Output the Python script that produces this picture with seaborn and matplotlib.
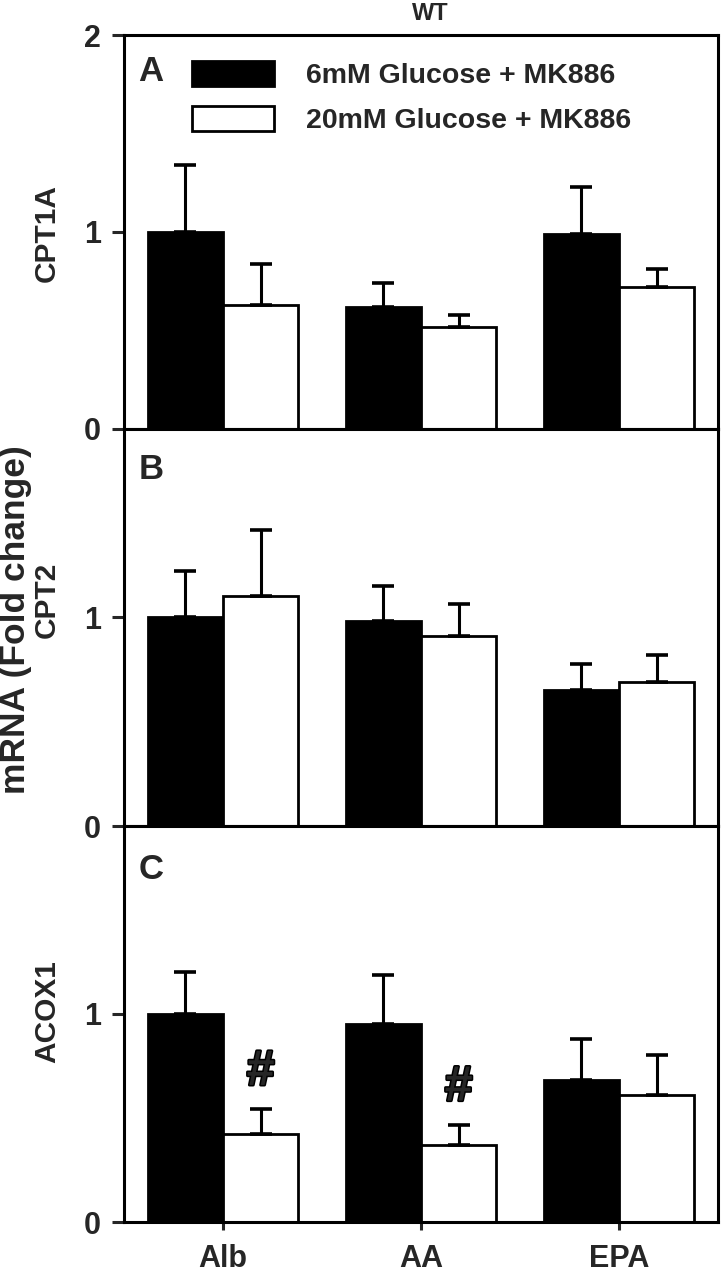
import pandas as pd
import matplotlib.pyplot as plt
import matplotlib.patheffects as pe
import seaborn as sns
from matplotlib.patches import Patch

# data (mean and upward SEM)
treatments = ["Alb", "AA", "EPA"]
conditions = ["6mM Glucose + MK886", "20mM Glucose + MK886"]
genes = ["CPT1A", "CPT2", "ACOX1"]

cpt1a_6 = [1.00, 0.62, 0.99]
cpt1a_6_sem = [0.34, 0.12, 0.24]
cpt1a_20 = [0.63, 0.52, 0.72]
cpt1a_20_sem = [0.21, 0.06, 0.09]

cpt2_6 = [1.00, 0.98, 0.65]
cpt2_6_sem = [0.22, 0.17, 0.125]
cpt2_20 = [1.10, 0.91, 0.69]
cpt2_20_sem = [0.315, 0.155, 0.13]

acox1_6 = [1.00, 0.95, 0.68]
acox1_6_sem = [0.20, 0.235, 0.20]
acox1_20 = [0.42, 0.37, 0.61]
acox1_20_sem = [0.12, 0.095, 0.19]

# '#' significance marks (gene, treatment) on the 20mM bars
sig_marks = [("ACOX1", "Alb"), ("ACOX1", "AA")]

panel_letters = ["A", "B", "C"]
ymax = [2.0, 1.9, 1.9]
yticks = [[0, 1, 2], [0, 1], [0, 1]]

means = {"CPT1A": (cpt1a_6, cpt1a_20), "CPT2": (cpt2_6, cpt2_20), "ACOX1": (acox1_6, acox1_20)}
sems = {"CPT1A": (cpt1a_6_sem, cpt1a_20_sem), "CPT2": (cpt2_6_sem, cpt2_20_sem),
        "ACOX1": (acox1_6_sem, acox1_20_sem)}

sns.set_style("white")
plt.rcParams["font.family"] = ["Liberation Sans", "DejaVu Sans"]
plt.rcParams["font.weight"] = "bold"

fig = plt.figure(figsize=(7.21, 12.74), dpi=100)
left, width = 124 / 721, 594 / 721
boxes = [(0.6633, 0.3092), (0.3516, 0.3116), (0.0408, 0.3108)]
letter_y = [0.95, 0.94, 0.932]
label_y = [1 - 233 / 1274, 1 - 600 / 1274, 1 - 1012 / 1274]
colors = {conditions[0]: "black", conditions[1]: "white"}

for i, gene in enumerate(genes):
    ax = fig.add_axes([left, boxes[i][0], width, boxes[i][1]])
    rows = []
    for c, vals in zip(conditions, means[gene]):
        for t, v in zip(treatments, vals):
            rows.append({"treatment": t, "condition": c, "value": v})
    df = pd.DataFrame(rows)
    sns.barplot(data=df, x="treatment", y="value", hue="condition", hue_order=conditions,
                order=treatments, palette=colors, edgecolor="black", linewidth=2.0,
                width=0.76, gap=0, errorbar=None, legend=False, ax=ax)

    for container, errs in zip(ax.containers, sems[gene]):
        for bar, e in zip(container, errs):
            x = bar.get_x() + bar.get_width() / 2
            y = bar.get_height()
            ax.errorbar(x, y, yerr=[[0], [e]], fmt="none", ecolor="black",
                        elinewidth=2.2, capsize=7.9, capthick=2.6, zorder=1)

    # significance marks
    for g, t in sig_marks:
        if g == gene:
            j = treatments.index(t)
            bar = ax.containers[1][j]
            x = bar.get_x() + bar.get_width() / 2
            y = bar.get_height() + sems[gene][1][j] + 0.18
            ax.text(x, y, "#", ha="center", va="center", fontsize=36, fontweight="bold",
                    path_effects=[pe.withStroke(linewidth=2.2, foreground="black")])

    ax.set_xlim(-0.5, 2.5)
    ax.set_ylim(0, ymax[i])
    ax.set_yticks(yticks[i])
    ax.set_yticklabels([str(v) for v in yticks[i]], fontsize=22, fontweight="bold")
    ax.set_xlabel("")
    ax.set_ylabel("")
    for s in ax.spines.values():
        s.set_linewidth(2.2)
        s.set_color("black")
    ax.tick_params(axis="y", direction="out", length=8.6, width=2.2, pad=8, left=True)
    if i < 2:
        ax.tick_params(axis="x", bottom=False, labelbottom=False)
    else:
        ax.tick_params(axis="x", direction="out", length=6, width=2.2, pad=10, bottom=True)
        ax.set_xticks(range(len(treatments)))
        ax.set_xticklabels(treatments, fontsize=22, fontweight="bold")

    ax.text(0.024, letter_y[i], panel_letters[i], transform=ax.transAxes, ha="left", va="top",
            fontsize=25, fontweight="bold")
    fig.text(47 / 721, label_y[i], gene, rotation=90, ha="center", va="center",
             fontsize=21.5, fontweight="bold")

    if i == 0:
        handles = [Patch(facecolor=colors[c], edgecolor="black", linewidth=2.0) for c in conditions]
        ax.legend(handles, conditions, loc="upper left", bbox_to_anchor=(0.115, 0.935),
                  frameon=False, handlelength=2.86, handleheight=1.0,
                  handletextpad=1.15, labelspacing=0.58, borderpad=0, borderaxespad=0,
                  prop={"weight": "bold", "size": 20.5})

fig.text(16 / 721, 1 - 620 / 1274, "mRNA (Fold change)", rotation=90, ha="center",
         va="center", fontsize=25.5, fontweight="bold")
fig.text(430 / 721, 1 - 14 / 1274, "WT", ha="center", va="center", fontsize=17,
         fontweight="bold")

fig.savefig("out.png", dpi=100)
